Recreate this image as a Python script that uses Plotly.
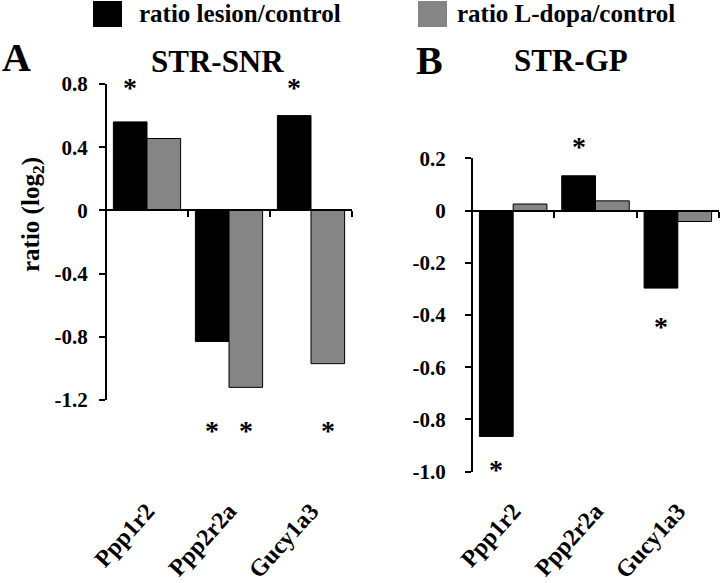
import plotly.graph_objects as go

# ---------------- data ----------------
genes = ["Ppp1r2", "Ppp2r2a", "Gucy1a3"]
series_names = ["ratio lesion/control", "ratio L-dopa/control"]

snr_lesion = [0.56, -0.83, 0.60]
snr_ldopa = [0.455, -1.12, -0.97]

gp_lesion = [-0.865, 0.133, -0.297]
gp_ldopa = [0.025, 0.037, -0.042]

snr_tickvals = [0.8, 0.4, 0, -0.4, -0.8, -1.2]
snr_ticktext = ["0.8", "0.4", "0", "-0.4", "-0.8", "-1.2"]
gp_tickvals = [0.2, 0, -0.2, -0.4, -0.6, -0.8, -1.0]
gp_ticktext = ["0.2", "0", "-0.2", "-0.4", "-0.6", "-0.8", "-1.0"]

# significance stars: (gene index, series index 0=lesion 1=L-dopa)
snr_stars = [(0, 0), (2, 0), (1, 0), (1, 1), (2, 1)]
gp_stars = [(0, 0), (1, 0), (2, 0)]

# ---------------- style ----------------
FONT = "Liberation Serif, Times New Roman, serif"
BLACK = "#000000"
GRAY = "#858585"
W, H = 720, 583
BARGAP = 0.18

def px_x(p):
    return p / W

def px_y(p):
    return 1 - p / H

snr_range = [-1.2, 0.8]
gp_range = [-1.0, 0.2]
snr_xdom = [px_x(106), px_x(352)]
gp_xdom = [px_x(472), px_x(719)]
snr_ydom = [px_y(400), px_y(84)]
gp_ydom = [px_y(471.7), px_y(158.3)]

def zero_pos(ydom, yr):
    return ydom[0] + (0 - yr[0]) / (yr[1] - yr[0]) * (ydom[1] - ydom[0])

fig = go.Figure()
for vals, color, name in [(snr_lesion, BLACK, series_names[0]), (snr_ldopa, GRAY, series_names[1])]:
    fig.add_trace(go.Bar(x=genes, y=vals, marker=dict(color=color, line=dict(color="black", width=1)),
                         name=name, xaxis="x", yaxis="y", showlegend=False))
for vals, color, name in [(gp_lesion, BLACK, series_names[0]), (gp_ldopa, GRAY, series_names[1])]:
    fig.add_trace(go.Bar(x=genes, y=vals, marker=dict(color=color, line=dict(color="black", width=1)),
                         name=name, xaxis="x2", yaxis="y2", showlegend=False))

tickfont = dict(family=FONT, size=21, color="black", weight="bold")
catfont = dict(family=FONT, size=24, color="black", weight="bold")

def xaxis(dom, ydom, yr, standoff):
    return dict(domain=dom, anchor="free", position=zero_pos(ydom, yr), range=[-0.5, 2.5],
                showline=True, linecolor="black", linewidth=2, ticks="outside", ticklen=6,
                tickwidth=2, tickcolor="black", tickson="boundaries", tickangle=-48,
                tickfont=catfont, ticklabelstandoff=standoff, showgrid=False, zeroline=False,
                type="category", automargin=False)

def yaxis(dom, yr, tv, tt, pos, standoff):
    return dict(domain=dom, range=yr, anchor="free", position=pos, tickvals=tv,
                ticktext=["<b>%s</b>" % t for t in tt],
                showline=True, linecolor="black", linewidth=2, ticks="outside", ticklen=6,
                tickwidth=2, tickcolor="black", tickfont=tickfont, showgrid=False,
                zeroline=False, ticklabelstandoff=standoff, automargin=False)

fig.update_layout(
    template="none",
    width=W, height=H, margin=dict(l=0, r=0, t=0, b=0, pad=0),
    plot_bgcolor="white", paper_bgcolor="white",
    barmode="group", bargap=BARGAP, bargroupgap=0,
    showlegend=False,
    font=dict(family=FONT, color="black", weight="bold"),
    xaxis=xaxis(snr_xdom, snr_ydom, snr_range, 276),
    yaxis=yaxis(snr_ydom, snr_range, snr_tickvals, snr_ticktext, snr_xdom[0], 7),
    xaxis2=xaxis(gp_xdom, gp_ydom, gp_range, 276),
    yaxis2=yaxis(gp_ydom, gp_range, gp_tickvals, gp_ticktext, gp_xdom[0], 15),
)

ann = []
# y-axis title
ann.append(dict(text="ratio (log<sub>2</sub>)", x=px_x(32), y=px_y(215), xref="paper", yref="paper",
                xanchor="center", yanchor="middle",
                textangle=-90, showarrow=False, font=dict(family=FONT, size=25, weight="bold")))
# panel letters and titles
for t, x, y, s in [("A", 16, 57, 40), ("B", 429, 60, 40), ("STR-SNR", 217, 61, 31), ("STR-GP", 571, 60, 31)]:
    ann.append(dict(text=t, x=px_x(x), y=px_y(y), xref="paper", yref="paper", showarrow=False,
                    xanchor="center", yanchor="middle",
                    font=dict(family=FONT, size=s, weight="bold")))
# legend
for name, color, sx, tx in [(series_names[0], BLACK, 93, 137), (series_names[1], GRAY, 418, 455)]:
    fig.add_shape(type="rect", xref="paper", yref="paper", x0=px_x(sx), x1=px_x(sx + 29),
                  y0=px_y(27), y1=px_y(1), fillcolor=color, line=dict(width=0))
    ann.append(dict(text=name, x=px_x(tx), y=px_y(14), xref="paper", yref="paper", xanchor="left",
                    yanchor="middle", showarrow=False, font=dict(family=FONT, size=25, weight="bold")))

# significance stars
off = (1 - BARGAP) / 4
STAR = 28
glyph = -3  # shift so the asterisk glyph centre lands on the point
snr_star_pos = {(0, 0): (0.8, 0), (2, 0): (0.8, 0), (1, 0): (-1.2, -27), (1, 1): (-1.2, -27), (2, 1): (-1.2, -27)}
gp_star_pos = {(0, 0): (-0.98, 0), (1, 0): (0.2, 15), (2, 0): (-0.434, 0)}
for stars, pos, xr, yr in [(snr_stars, snr_star_pos, "x", "y"), (gp_stars, gp_star_pos, "x2", "y2")]:
    for gi, si in stars:
        yv, ys = pos[(gi, si)]
        ann.append(dict(text="*", x=gi + (-off if si == 0 else off), y=yv, xref=xr, yref=yr,
                        xanchor="center", yanchor="middle",
                        yshift=ys + glyph, showarrow=False,
                        font=dict(family=FONT, size=STAR, weight="bold")))

fig.update_layout(annotations=ann)
fig.write_html("out.html", config={"displayModeBar": False},
               post_script="document.body.style.margin='0px';")
